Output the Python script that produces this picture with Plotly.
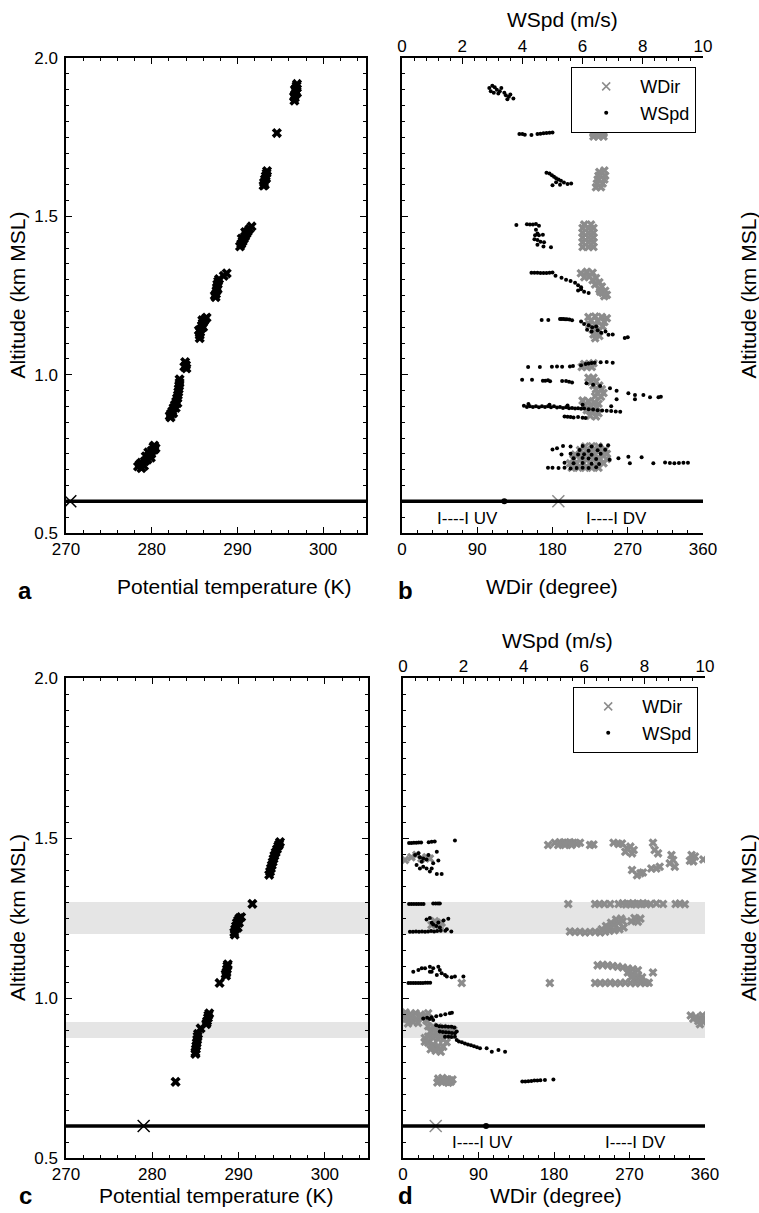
import plotly.graph_objects as go

# ---------------- data ----------------
# panel a: potential temperature (K) vs altitude (km MSL)
A_THETA_PTS = [
    (296.65, 1.865), (296.7, 1.875), (296.75, 1.885), (296.8, 1.895), (296.85, 1.905),
    (296.9, 1.912), (296.95, 1.918), (296.6, 1.878), (296.95, 1.89), (296.7, 1.9),
    (294.6, 1.763),
    (293.05, 1.597), (293.1, 1.607), (293.2, 1.617), (293.3, 1.627), (293.4, 1.636),
    (293.45, 1.643), (293.2, 1.6), (293.35, 1.62),
    (290.3, 1.405), (290.45, 1.413), (290.6, 1.421), (290.75, 1.429), (290.9, 1.437),
    (291.05, 1.445), (291.2, 1.452), (291.4, 1.46), (291.65, 1.468), (290.5, 1.43), (290.9, 1.45),
    (288.75, 1.32), (288.4, 1.312),
    (287.45, 1.245), (287.5, 1.255), (287.55, 1.265), (287.6, 1.275), (287.65, 1.285),
    (287.75, 1.295), (287.85, 1.302), (287.35, 1.25), (287.7, 1.27),
    (285.6, 1.115), (285.6, 1.125), (285.65, 1.135), (285.75, 1.145), (285.85, 1.155),
    (285.95, 1.163), (286.1, 1.17), (286.25, 1.176), (286.4, 1.18), (285.5, 1.14),
    (285.9, 1.172), (286.0, 1.15),
    (283.8, 1.025), (284.0, 1.03), (283.9, 1.04), (284.05, 1.02),
    (283.25, 0.985), (283.25, 0.975), (283.2, 0.965), (283.15, 0.955), (283.1, 0.945),
    (283.05, 0.935), (282.95, 0.925), (282.85, 0.915), (282.7, 0.905), (282.55, 0.895),
    (282.4, 0.885), (282.25, 0.877), (282.1, 0.87), (282.2, 0.865), (282.5, 0.878),
    (282.8, 0.895), (283.0, 0.91),
    (278.4, 0.71), (278.8, 0.705), (279.1, 0.712), (278.8, 0.722), (279.2, 0.727),
    (279.5, 0.732), (279.3, 0.742), (279.7, 0.745), (279.95, 0.75), (279.6, 0.755),
    (280.0, 0.76), (280.3, 0.763), (280.2, 0.772), (280.45, 0.768), (279.9, 0.738),
    (280.3, 0.776), (278.6, 0.717),
]

# panel b: wind direction (deg) and wind speed (m/s) vs altitude
B_WDIR_PTS = [
    (229, 1.752), (235, 1.752), (241, 1.752), (229, 1.762), (235, 1.762), (241, 1.762),
    (229, 1.772), (235, 1.772), (241, 1.772),
    (232, 1.592), (238, 1.592), (233, 1.604), (240, 1.604), (234, 1.616), (242, 1.616),
    (235, 1.628), (243, 1.628), (236, 1.64), (242, 1.645),
    (216, 1.403), (223, 1.403), (229, 1.403), (216, 1.418), (223, 1.418), (229, 1.418),
    (216, 1.433), (223, 1.433), (229, 1.433), (216, 1.448), (223, 1.448), (229, 1.448),
    (216, 1.463), (223, 1.463), (229, 1.463), (218, 1.474), (226, 1.474),
    (214, 1.32), (221, 1.325), (228, 1.322), (224, 1.31), (232, 1.305), (218, 1.308),
    (228, 1.298), (236, 1.292), (231, 1.285), (239, 1.278), (236, 1.27), (243, 1.265),
    (240, 1.258), (245, 1.252), (242, 1.248), (237, 1.262),
    (223, 1.182), (231, 1.184), (239, 1.182), (245, 1.178), (226, 1.17), (234, 1.17),
    (242, 1.166), (224, 1.158), (232, 1.156), (240, 1.152), (228, 1.142), (235, 1.138),
    (229, 1.127), (236, 1.122), (231, 1.115),
    (215, 1.024), (221, 1.024), (227, 1.024), (218, 1.034), (224, 1.034), (229, 1.036),
    (223, 0.99), (229, 0.99), (226, 0.978), (232, 0.978), (229, 0.966), (236, 0.966),
    (232, 0.954), (239, 0.954), (234, 0.942), (241, 0.942), (231, 0.932), (238, 0.93),
    (216, 0.918), (223, 0.916), (230, 0.912), (235, 0.908), (219, 0.904), (226, 0.9),
    (233, 0.896), (221, 0.888), (228, 0.884), (235, 0.878), (225, 0.87), (232, 0.868),
    (203, 0.706), (211, 0.706), (219, 0.706), (227, 0.706), (235, 0.706),
    (201, 0.72), (209, 0.72), (217, 0.72), (225, 0.72), (233, 0.72), (241, 0.72),
    (205, 0.734), (213, 0.734), (221, 0.734), (229, 0.734), (237, 0.734), (245, 0.734),
    (207, 0.748), (215, 0.748), (223, 0.748), (231, 0.748), (239, 0.748), (245, 0.75),
    (213, 0.762), (221, 0.762), (229, 0.762), (237, 0.762), (243, 0.764),
    (219, 0.773), (227, 0.774), (235, 0.773),
]
B_WSPD_PTS = [
    (2.9, 1.905), (3.0, 1.912), (3.08, 1.908), (3.15, 1.9), (2.95, 1.895), (3.25, 1.895),
    (3.3, 1.905), (3.4, 1.89), (3.45, 1.882), (3.55, 1.878), (3.6, 1.885), (3.7, 1.872),
    (3.5, 1.87), (3.2, 1.888), (3.05, 1.89),
    (3.9, 1.76), (4.0, 1.76), (4.08, 1.758), (4.3, 1.757), (4.5, 1.76), (4.6, 1.761),
    (4.7, 1.762), (4.8, 1.763), (4.9, 1.764), (5.0, 1.765),
    (4.8, 1.638), (4.9, 1.635), (4.98, 1.63), (5.05, 1.625), (5.12, 1.62), (5.2, 1.616),
    (5.28, 1.612), (5.38, 1.607), (5.5, 1.602), (5.62, 1.604), (5.0, 1.598), (5.12, 1.608),
    (5.25, 1.6),
    (3.8, 1.473), (4.15, 1.475), (4.25, 1.474), (4.35, 1.474), (4.45, 1.476), (4.55, 1.47),
    (4.45, 1.458), (4.5, 1.446), (4.42, 1.44), (4.55, 1.44), (4.68, 1.442), (4.4, 1.428),
    (4.5, 1.425), (4.6, 1.42), (4.72, 1.418), (4.95, 1.402), (4.5, 1.41), (4.7, 1.405),
    (4.3, 1.322), (4.4, 1.322), (4.5, 1.322), (4.6, 1.321), (4.7, 1.321), (4.8, 1.321),
    (4.9, 1.322), (5.0, 1.323), (5.1, 1.312), (5.3, 1.306), (5.45, 1.3), (5.6, 1.296),
    (5.75, 1.29), (5.85, 1.282), (5.95, 1.276), (5.85, 1.266), (6.05, 1.262), (6.2, 1.258),
    (5.95, 1.27),
    (4.64, 1.173), (4.86, 1.173), (5.25, 1.176), (5.3, 1.176), (5.36, 1.176), (5.42, 1.175),
    (5.48, 1.175), (5.56, 1.174), (5.65, 1.172), (5.95, 1.168), (6.05, 1.16), (6.2, 1.156),
    (6.32, 1.15), (6.45, 1.152), (6.15, 1.142), (6.3, 1.136), (6.5, 1.14), (6.62, 1.132),
    (6.76, 1.136), (6.86, 1.126), (7.0, 1.127), (7.4, 1.116), (7.5, 1.118),
    (4.19, 1.024), (4.58, 1.024), (4.98, 1.025), (5.15, 1.026), (5.32, 1.025), (5.58, 1.026),
    (5.68, 1.027), (5.95, 1.03), (6.1, 1.034), (6.2, 1.035), (6.3, 1.037), (6.4, 1.038),
    (6.6, 1.039), (6.8, 1.04), (7.0, 1.038),
    (3.99, 0.984), (4.32, 0.984), (4.68, 0.981), (4.76, 0.981), (4.85, 0.982), (4.92, 0.979),
    (5.32, 0.98), (5.45, 0.98), (5.55, 0.978), (5.65, 0.975),
    (6.13, 0.973), (6.35, 0.968), (6.58, 0.964), (6.91, 0.957), (7.13, 0.949), (7.52, 0.941),
    (7.74, 0.936), (8.02, 0.936), (8.24, 0.929), (8.52, 0.929), (8.6, 0.93), (7.74, 0.922),
    (7.13, 0.922),
    (4.05, 0.902), (4.15, 0.898), (4.25, 0.9), (4.35, 0.898), (4.45, 0.9), (4.55, 0.897),
    (4.65, 0.9), (4.75, 0.898), (4.85, 0.9), (4.95, 0.897), (5.05, 0.9), (5.15, 0.896),
    (5.25, 0.898), (5.35, 0.895), (5.45, 0.897), (5.55, 0.894), (5.65, 0.895), (5.75, 0.893),
    (5.85, 0.894), (5.95, 0.892), (6.05, 0.893), (6.2, 0.891), (6.35, 0.89), (6.5, 0.888),
    (6.65, 0.887), (6.8, 0.886), (6.95, 0.885), (7.1, 0.884), (7.25, 0.883), (4.2, 0.907),
    (4.9, 0.905), (5.5, 0.903), (6.95, 0.9), (6.0, 0.905),
    (5.4, 0.868), (5.5, 0.867), (5.6, 0.866), (5.7, 0.865), (5.85, 0.866), (6.0, 0.864),
    (6.1, 0.863),
    (5.35, 0.775), (5.6, 0.773), (6.0, 0.775), (6.3, 0.773), (6.6, 0.776), (6.85, 0.777),
    (5.0, 0.764), (5.15, 0.768), (5.9, 0.762), (6.2, 0.76), (6.5, 0.761), (6.75, 0.763),
    (5.3, 0.748), (5.6, 0.75), (5.85, 0.748), (6.05, 0.749), (6.3, 0.747), (6.6, 0.75),
    (5.7, 0.736), (6.0, 0.737), (6.2, 0.735), (6.45, 0.734), (6.9, 0.731),
    (5.4, 0.722), (5.7, 0.72), (6.0, 0.721), (6.3, 0.719), (6.55, 0.718),
    (4.85, 0.706), (5.0, 0.706), (5.2, 0.705), (5.4, 0.706), (5.6, 0.704), (5.8, 0.705),
    (6.0, 0.706), (6.2, 0.705), (6.45, 0.708),
    (7.19, 0.736), (7.52, 0.741), (7.57, 0.72), (7.96, 0.739), (8.35, 0.72), (8.74, 0.723),
    (8.9, 0.721), (9.05, 0.72), (9.2, 0.721), (9.35, 0.722), (9.5, 0.722),
]

# panel c: potential temperature (K) vs altitude
C_THETA_PTS = [
    (293.55, 1.385), (293.65, 1.395), (293.75, 1.405), (293.85, 1.415), (293.95, 1.425),
    (294.05, 1.435), (294.15, 1.445), (294.3, 1.455), (294.45, 1.465), (294.6, 1.475),
    (294.8, 1.487), (294.7, 1.48),
    (291.6, 1.294),
    (289.5, 1.205), (289.6, 1.215), (289.7, 1.225), (289.8, 1.235), (289.95, 1.243),
    (290.1, 1.25), (290.3, 1.253), (289.55, 1.198), (289.9, 1.22), (290.05, 1.235),
    (288.55, 1.07), (288.6, 1.08), (288.65, 1.09), (288.7, 1.1), (288.75, 1.105), (288.5, 1.075),
    (287.8, 1.047),
    (286.25, 0.918), (286.35, 0.928), (286.45, 0.938), (286.5, 0.946), (286.6, 0.952),
    (286.3, 0.922),
    (285.6, 0.905),
    (285.0, 0.83), (285.05, 0.84), (285.1, 0.85), (285.15, 0.86), (285.2, 0.87),
    (285.25, 0.88), (285.0, 0.825), (285.3, 0.888),
    (282.7, 0.738),
]

# panel d: wind direction (deg) and wind speed (m/s) vs altitude
D_WDIR_PTS = [
    (173, 1.478), (181, 1.485), (187, 1.487), (191, 1.485), (195, 1.484), (199, 1.487),
    (203, 1.485), (207, 1.482), (211, 1.485), (185, 1.478), (193, 1.478), (201, 1.478),
    (223, 1.478), (227, 1.48),
    (251, 1.485), (257, 1.481), (261, 1.483), (267, 1.468), (271, 1.473), (265, 1.457),
    (273, 1.452), (275, 1.4625),
    (273, 1.40), (283, 1.39), (286, 1.392), (279, 1.384),
    (298, 1.485), (300, 1.4625), (304, 1.452), (306, 1.41), (296, 1.405), (302, 1.405),
    (320, 1.447), (322, 1.431), (318, 1.421), (324, 1.41),
    (344, 1.447), (348, 1.442), (346, 1.427), (358, 1.433), (342, 1.429),
    (2.4, 1.431), (10, 1.44), (16, 1.447), (22, 1.436), (28, 1.44), (32, 1.436),
    (197, 1.294), (229, 1.294), (234, 1.294), (240, 1.294), (247, 1.294), (257, 1.294),
    (262, 1.296), (266, 1.292), (270, 1.294), (274, 1.296), (278, 1.292), (282, 1.294),
    (286, 1.296), (290, 1.293), (295, 1.294), (302, 1.295), (310, 1.294), (325, 1.294),
    (330, 1.295), (336, 1.293),
    (34, 1.228), (40, 1.232), (46, 1.235), (38, 1.24), (44, 1.225),
    (199, 1.208), (205, 1.206), (211, 1.207), (217, 1.205), (223, 1.206), (229, 1.207),
    (235, 1.205), (241, 1.207), (246, 1.21), (252, 1.212), (258, 1.215), (263, 1.22),
    (245, 1.22), (251, 1.228), (257, 1.235), (262, 1.24), (248, 1.235), (254, 1.245),
    (260, 1.248), (237, 1.215), (242, 1.225),
    (272, 1.24), (278, 1.245), (283, 1.248), (276, 1.25), (280, 1.238),
    (70, 1.047), (175, 1.047),
    (232, 1.102), (238, 1.104), (244, 1.102), (250, 1.1), (256, 1.098), (262, 1.095),
    (268, 1.092), (274, 1.09), (280, 1.087),
    (268, 1.08), (274, 1.075), (280, 1.07), (285, 1.065), (278, 1.06), (284, 1.055), (272, 1.065),
    (229, 1.047), (235, 1.047), (241, 1.047), (247, 1.048), (253, 1.046), (259, 1.047),
    (265, 1.048), (271, 1.047), (277, 1.046), (283, 1.047), (289, 1.047), (293, 1.048),
    (298, 1.08),
    (3, 0.955), (9, 0.95), (15, 0.952), (21, 0.948), (27, 0.945), (4, 0.935), (10, 0.94),
    (16, 0.935), (22, 0.938), (28, 0.93), (6, 0.92), (12, 0.925), (18, 0.922), (30, 0.952),
    (3, 0.945),
    (343, 0.945), (349, 0.94), (355, 0.935), (358, 0.925), (352, 0.928), (346, 0.935),
    (357, 0.945), (359, 0.93), (354, 0.918),
    (30, 0.912), (36, 0.91), (42, 0.908), (48, 0.906), (54, 0.903), (60, 0.9), (33, 0.895),
    (39, 0.893), (45, 0.89), (51, 0.888), (57, 0.885), (36, 0.875), (42, 0.872), (48, 0.87),
    (30, 0.86), (36, 0.855), (42, 0.85), (48, 0.848), (33, 0.84), (39, 0.835), (45, 0.832),
    (26, 0.875), (30, 0.88), (52, 0.862), (26, 0.863),
    (41, 0.736), (46, 0.74), (51, 0.738), (56, 0.742), (59, 0.745), (42, 0.748), (47, 0.75),
    (52, 0.746), (57, 0.738), (43, 0.742), (49, 0.744), (54, 0.735),
]
D_WSPD_PTS = [
    (0.2, 1.484), (0.28, 1.484), (0.36, 1.485), (0.44, 1.485), (0.52, 1.486), (0.6, 1.486),
    (0.85, 1.487), (0.95, 1.488), (1.05, 1.489), (1.72, 1.492),
    (0.40, 1.447), (0.51, 1.452), (0.56, 1.44), (0.67, 1.436), (0.78, 1.433), (0.84, 1.447),
    (1.0, 1.421), (1.12, 1.457), (1.17, 1.43), (0.67, 1.41), (0.56, 1.405), (0.78, 1.405),
    (0.95, 1.405), (0.89, 1.395), (1.12, 1.3875), (1.28, 1.3875), (0.45, 1.416), (0.62, 1.426),
    (0.2, 1.294), (0.28, 1.294), (0.36, 1.294), (0.44, 1.294), (0.52, 1.294), (0.6, 1.294),
    (0.68, 1.294), (1.0, 1.295), (1.08, 1.295), (1.16, 1.295), (1.22, 1.295),
    (0.23, 1.207), (0.33, 1.207), (0.43, 1.208), (0.53, 1.207), (0.63, 1.208), (0.73, 1.207),
    (0.83, 1.208), (0.93, 1.209), (1.03, 1.208), (1.13, 1.209), (1.25, 1.21), (1.4, 1.21),
    (1.6, 1.208), (0.78, 1.245), (0.89, 1.25), (1.17, 1.236), (1.34, 1.242), (1.5, 1.248),
    (1.0, 1.23), (1.22, 1.22), (1.45, 1.215), (1.1, 1.225), (0.95, 1.235),
    (0.34, 1.082), (0.51, 1.0875), (0.62, 1.093), (0.73, 1.093), (0.89, 1.098), (0.95, 1.082),
    (1.0, 1.093), (1.17, 1.098), (1.22, 1.0875), (1.28, 1.077), (1.39, 1.072), (1.45, 1.067),
    (1.61, 1.065), (1.72, 1.067), (2.0, 1.067), (1.12, 1.072), (0.89, 1.082),
    (0.18, 1.047), (0.26, 1.047), (0.34, 1.047), (0.42, 1.047), (0.5, 1.047), (0.58, 1.047),
    (0.66, 1.047), (0.74, 1.048), (0.82, 1.048), (0.9, 1.048),
    (0.67, 0.936), (0.8, 0.938), (0.95, 0.94), (1.1, 0.943), (1.25, 0.946), (1.4, 0.949),
    (1.55, 0.952), (1.62, 0.954),
    (0.89, 0.934), (1.0, 0.931), (1.1, 0.915), (1.2, 0.912), (1.3, 0.911), (1.4, 0.911),
    (1.5, 0.91), (1.61, 0.91), (1.7, 0.908), (1.22, 0.895), (1.32, 0.894), (1.42, 0.893),
    (1.52, 0.892), (1.62, 0.891), (1.72, 0.89), (1.78, 0.895), (1.39, 0.879), (1.5, 0.879),
    (1.6, 0.878), (1.72, 0.879), (1.78, 0.869), (1.85, 0.864), (1.95, 0.862), (2.05, 0.858),
    (2.15, 0.855), (2.25, 0.852), (2.35, 0.849), (2.45, 0.846), (2.55, 0.843), (2.77, 0.843),
    (2.94, 0.832), (3.16, 0.8375), (3.38, 0.832),
    (3.95, 0.739), (4.05, 0.739), (4.15, 0.74), (4.25, 0.741), (4.35, 0.742), (4.45, 0.742),
    (4.55, 0.743), (4.7, 0.744), (4.98, 0.745),
]

GROUND_ALT = 0.6
A_GROUND_THETA = 270.5
C_GROUND_THETA = 279.0
B_GROUND_WDIR, B_GROUND_WSPD = 187, 3.4
D_GROUND_WDIR, D_GROUND_WSPD = 39, 2.75
B_LABEL_POS = [(78, 0.547, "I----I UV"), (257, 0.547, "I----I DV")]
D_LABEL_POS = [(95, 0.547, "I----I UV"), (277, 0.547, "I----I DV")]
SHADED_BANDS = [(1.2, 1.3), (0.875, 0.925)]

# ---------------- style ----------------
W, H = 759, 1213
FONT = "Liberation Sans, Arial, Helvetica, sans-serif"
GRAY = "#8c8c8c"
TICKFONT = dict(family=FONT, size=17, color="black")


def px(x):
    return x / W


def py(y):
    return 1 - y / H


def unzip(pts):
    return [p[0] for p in pts], [p[1] for p in pts]


def axis(**kw):
    d = dict(showline=True, linecolor="black", linewidth=1.5, ticks="inside",
             ticklen=6, tickwidth=1.2, tickcolor="black", showgrid=False,
             zeroline=False, tickfont=TICKFONT, automargin=False)
    d.update(kw)
    return d


def minor(dt, color="black"):
    return dict(ticks="inside", ticklen=3, tickwidth=1, tickcolor=color, dtick=dt, showgrid=False)


TOP_Y = [py(533), py(58)]
BOT_Y = [py(1158), py(678)]
PA_X = [px(66), px(366)]
PB_X = [px(402), px(703)]
PC_X = [px(66), px(368)]
PD_X = [px(403), px(705)]

fig = go.Figure()

theta_marker = dict(symbol="x", size=9, color="black")
wdir_marker = dict(symbol="x", size=8, color=GRAY)
wspd_marker = dict(symbol="circle", size=4, color="black")

# panel a
x, y = unzip(A_THETA_PTS)
fig.add_trace(go.Scatter(x=x, y=y, mode="markers", marker=theta_marker, xaxis="x", yaxis="y", showlegend=False))
fig.add_trace(go.Scatter(x=[A_GROUND_THETA], y=[GROUND_ALT], mode="markers", xaxis="x", yaxis="y",
                         marker=dict(symbol="x-thin", size=12, line=dict(width=1.5, color="black")),
                         showlegend=False))

# panel b
x, y = unzip(B_WDIR_PTS)
fig.add_trace(go.Scatter(x=x, y=y, mode="markers", marker=wdir_marker, xaxis="x2", yaxis="y2", showlegend=False))
x, y = unzip(B_WSPD_PTS)
fig.add_trace(go.Scatter(x=x, y=y, mode="markers", marker=wspd_marker, xaxis="x3", yaxis="y2", showlegend=False))
fig.add_trace(go.Scatter(x=[B_GROUND_WDIR], y=[GROUND_ALT], mode="markers", xaxis="x2", yaxis="y2",
                         marker=dict(symbol="x-thin", size=12, line=dict(width=1.5, color=GRAY)),
                         showlegend=False))
fig.add_trace(go.Scatter(x=[B_GROUND_WSPD], y=[GROUND_ALT], mode="markers", xaxis="x3", yaxis="y2",
                         marker=dict(symbol="circle", size=6, color="black"), showlegend=False))

# panel c
x, y = unzip(C_THETA_PTS)
fig.add_trace(go.Scatter(x=x, y=y, mode="markers", marker=theta_marker, xaxis="x4", yaxis="y4", showlegend=False))
fig.add_trace(go.Scatter(x=[C_GROUND_THETA], y=[GROUND_ALT], mode="markers", xaxis="x4", yaxis="y4",
                         marker=dict(symbol="x-thin", size=12, line=dict(width=1.5, color="black")),
                         showlegend=False))

# panel d
x, y = unzip(D_WDIR_PTS)
fig.add_trace(go.Scatter(x=x, y=y, mode="markers", marker=wdir_marker, xaxis="x5", yaxis="y5", showlegend=False))
x, y = unzip(D_WSPD_PTS)
fig.add_trace(go.Scatter(x=x, y=y, mode="markers", marker=wspd_marker, xaxis="x6", yaxis="y5", showlegend=False))
fig.add_trace(go.Scatter(x=[D_GROUND_WDIR], y=[GROUND_ALT], mode="markers", xaxis="x5", yaxis="y5",
                         marker=dict(symbol="x-thin", size=12, line=dict(width=1.5, color=GRAY)),
                         showlegend=False))
fig.add_trace(go.Scatter(x=[D_GROUND_WSPD], y=[GROUND_ALT], mode="markers", xaxis="x6", yaxis="y5",
                         marker=dict(symbol="circle", size=6, color="black"), showlegend=False))

# legend entries (thin symbols, as in the original key)
for lg, xa, ya in [("legend", "x2", "y2"), ("legend2", "x5", "y5")]:
    fig.add_trace(go.Scatter(x=[None], y=[None], mode="markers", name="WDir", legend=lg, xaxis=xa, yaxis=ya,
                             marker=dict(symbol="x-thin", size=8, line=dict(width=1.5, color=GRAY))))
    fig.add_trace(go.Scatter(x=[None], y=[None], mode="markers", name="WSpd", legend=lg, xaxis=xa, yaxis=ya,
                             marker=dict(symbol="circle", size=4, color="black")))

alt_axis = dict(range=[0.5, 2.0], tick0=0.5, dtick=0.5, tickformat=".1f", minor=minor(0.05))
theta_axis = dict(range=[270, 305], tick0=270, dtick=10, minor=minor(2))
wdir_axis = dict(range=[0, 360], tick0=0, dtick=90, minor=minor(18))
wspd_axis = dict(range=[0, 10], tick0=0, dtick=2, minor=minor(0.4), side="top", ticklabelstandoff=-3)
right_alt = dict(side="right", linecolor=GRAY, tickcolor=GRAY, range=[0.5, 2.0], tick0=0.5,
                 dtick=0.5, tickformat=".1f", minor=minor(0.05, GRAY), ticklabelstandoff=1)
legend_style = dict(xanchor="left", yanchor="top", bgcolor="white", bordercolor="black",
                    borderwidth=1.2, font=dict(family=FONT, size=18), tracegroupgap=0,
                    itemwidth=58)

fig.update_layout(
    width=W, height=H, autosize=False,
    margin=dict(l=0, r=0, t=0, b=0),
    paper_bgcolor="white", plot_bgcolor="white",
    font=dict(family=FONT, size=17, color="black"),
    xaxis=axis(domain=PA_X, anchor="y", mirror="ticks", **theta_axis),
    yaxis=axis(domain=TOP_Y, anchor="x", mirror="ticks", ticklabelstandoff=3, **alt_axis),
    xaxis2=axis(domain=PB_X, anchor="y2", **wdir_axis),
    xaxis3=axis(domain=PB_X, anchor="y2", overlaying="x2", **wspd_axis),
    yaxis2=axis(domain=TOP_Y, anchor="x2", showticklabels=False, **alt_axis),
    yaxis3=axis(domain=TOP_Y, anchor="x2", overlaying="y2", **right_alt),
    xaxis4=axis(domain=PC_X, anchor="y4", mirror="ticks", **theta_axis),
    yaxis4=axis(domain=BOT_Y, anchor="x4", mirror="ticks", ticklabelstandoff=3, **alt_axis),
    xaxis5=axis(domain=PD_X, anchor="y5", **wdir_axis),
    xaxis6=axis(domain=PD_X, anchor="y5", overlaying="x5", **wspd_axis),
    yaxis5=axis(domain=BOT_Y, anchor="x5", showticklabels=False, **alt_axis),
    yaxis6=axis(domain=BOT_Y, anchor="x5", overlaying="y5", **right_alt),
    legend=dict(x=px(571), y=py(67), **legend_style),
    legend2=dict(x=px(573), y=py(687), **legend_style),
    showlegend=True,
)

shapes = []
for xa, ya in [("x", "y"), ("x2", "y2"), ("x4", "y4"), ("x5", "y5")]:
    shapes.append(dict(type="line", xref=f"{xa} domain", yref=ya, x0=0, x1=1,
                       y0=GROUND_ALT, y1=GROUND_ALT, line=dict(color="black", width=3.5)))
for xa, ya in [("x4", "y4"), ("x5", "y5")]:
    for lo, hi in SHADED_BANDS:
        shapes.append(dict(type="rect", xref=f"{xa} domain", yref=ya, x0=0, x1=1, y0=lo, y1=hi,
                           fillcolor="#e5e5e5", line=dict(width=0), layer="below"))
fig.update_layout(shapes=shapes)

ann = []


def title(text, x, y, angle=0, size=21, bold=False):
    ann.append(dict(text=f"<b>{text}</b>" if bold else text, x=px(x), y=py(y), xref="paper",
                    yref="paper", showarrow=False, textangle=angle, xanchor="center",
                    yanchor="middle", font=dict(family=FONT, size=size, color="black")))


title("Altitude (km MSL)", 17, 295.5, -90)
title("Altitude (km MSL)", 17, 918, -90)
title("Altitude (km MSL)", 748, 295.5, -90)
title("Altitude (km MSL)", 748, 918, -90)
title("Potential temperature (K)", 234.5, 586)
title("Potential temperature (K)", 217, 1195)
title("WDir (degree)", 552, 586)
title("WDir (degree)", 556, 1195)
title("WSpd (m/s)", 562, 20)
title("WSpd (m/s)", 557, 640)
title("a", 25, 590, size=24, bold=True)
title("b", 405, 590, size=24, bold=True)
title("c", 25, 1195, size=24, bold=True)
title("d", 405, 1195, size=24, bold=True)

for xa, ya, labels in [("x2", "y2", B_LABEL_POS), ("x5", "y5", D_LABEL_POS)]:
    for xv, yv, t in labels:
        ann.append(dict(text=t, x=xv, y=yv, xref=xa, yref=ya, showarrow=False,
                        font=dict(family=FONT, size=17, color="black")))

fig.update_layout(annotations=ann)

# page body has a default 8px margin; drop it so the figure fills the window exactly
fig.write_html("out.html", config={"displayModeBar": False},
               post_script="document.body.style.margin='0';document.body.style.overflow='hidden';")
